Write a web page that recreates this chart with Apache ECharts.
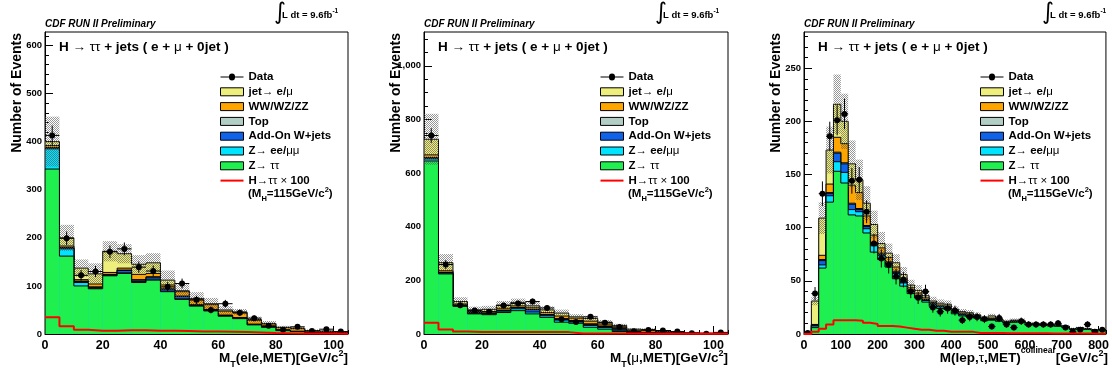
<!DOCTYPE html>
<html>
<head>
<meta charset="utf-8">
<script src="https://cdn.jsdelivr.net/npm/echarts@6/dist/echarts.min.js"></script>
<style>
  html, body { margin: 0; padding: 0; background: #fff; }
  #chart { width: 1112px; height: 376px; }
</style>
</head>
<body>
<div id="chart"></div>
<script>
// ---------------------------------------------------------------------------
// Binning
// ---------------------------------------------------------------------------
const binLowMT = [0, 5, 10, 15, 20, 25, 30, 35, 40, 45, 50, 55, 60, 65, 70, 75, 80, 85, 90, 95, 100];
const binLowColl = [0, 20, 40, 60, 80, 100, 120, 140, 160, 180, 200, 220, 240, 260, 280, 300, 320, 340, 360, 380,
  400, 420, 440, 460, 480, 500, 520, 540, 560, 580, 600, 620, 640, 660, 680, 700, 720, 740, 760, 780, 800];

// ---------------------------------------------------------------------------
// M_T(ele,MET)
// ---------------------------------------------------------------------------
const dataEle = [413, 199, 122, 130, 171, 177, 139, 131, 98, 105, 71, 50, 63, 44, 33, 17, 9, 15, 6, 10, 5];
const zttEle  = [343, 162, 100, 94, 121, 126, 107, 112, 88, 72, 58, 48, 37, 32, 19, 14, 7, 5, 2.5, 2, 1.5];
const zllEle  = [42, 15, 7, 1, 1, 1, 2, 2, 1, 1, 1, 1, 0.5, 0.5, 0.5, 0.3, 0.3, 0.2, 0.1, 0.1, 0.1];
const wjEle   = [2, 2, 2, 2, 1, 5, 3, 4, 4, 5, 1, 1, 1, 1, 0.5, 0.3, 0.2, 0.2, 0.1, 0.1, 0.1];
const topEle  = [1, 1, 1, 1, 1, 1, 1, 1, 1, 1, 1, 1, 1, 0.5, 0.5, 0.4, 0.3, 0.3, 0.2, 0.2, 0.1];
const vvEle   = [4, 3, 3, 6, 4, 4, 11, 7, 8, 9, 10, 10, 8, 10, 8, 6, 5.5, 5.5, 3.6, 3.1, 1.9];
const jetEle  = [8, 17, 24, 21, 44, 30, 21, 22, 10, 2, 3, 2, 2.5, 2, 1.5, 1, 0.7, 0.8, 0.5, 0.5, 0.3];
const bandEle = [52, 27, 18, 22, 21, 20, 19, 20, 20, 15, 13, 12, 8, 6, 6, 5, 3, 3, 2.5, 2, 1.5];
const higgsEle = [35, 16, 9, 7, 7, 8, 8, 7, 7, 6, 5, 5, 4.5, 4, 3, 2, 1.5, 1.2, 1, 0.8, 0.6];

// ---------------------------------------------------------------------------
// M_T(mu,MET)
// ---------------------------------------------------------------------------
const dataMu = [740, 259, 107, 88, 83, 106, 114, 121, 97, 55, 45, 64, 42, 26, 10, 15, 13, 9, 3, 1, 6];
const zttMu  = [645, 224, 103, 75, 72, 80, 87, 75, 62, 44, 40, 25, 18, 9, 3, 3, 1.5, 1, 0.5, 0.4, 0.3];
const zllMu  = [8, 3, 2, 2, 3, 5, 7, 7, 6, 8, 6, 7, 6, 5, 2, 1.5, 1, 0.5, 0.3, 0.2, 0.1];
const wjMu   = [3, 2, 2, 2, 2, 3, 4, 9, 4, 4, 3, 4, 4, 4, 2, 1, 0.5, 0.5, 0.2, 0.2, 0.1];
const topMu  = [2, 1, 1, 1, 1, 1, 1, 1, 1, 1, 1, 2, 2, 2, 1, 1, 0.5, 0.5, 0.3, 0.2, 0.2];
const vvMu   = [10, 6, 4, 4, 5, 7, 6, 6, 7, 10, 9, 10, 7, 6, 6, 7, 4, 3.5, 2.2, 1.6, 1.0];
const jetMu  = [58, 30, 9, 6, 9, 12, 13, 7, 10, 11, 5, 10, 7, 6, 4, 3.5, 1.5, 1, 0.5, 0.4, 0.3];
const bandMu = [95, 32, 16, 12, 13, 15, 14, 14, 13, 13, 10, 10, 8, 6, 4, 4, 3, 2, 1.5, 1, 1];
const higgsMu = [42, 17, 9, 7, 7, 7, 7, 7, 7, 7, 2, 2, 2, 1.5, 1.5, 1, 1, 1, 0.5, 0.5, 0.5];

// ---------------------------------------------------------------------------
// M(lep,tau,MET) collinear
// ---------------------------------------------------------------------------
const dataColl = [1, 38, 132, 186, 201, 207, 144, 145, 115, 85, 71, 65, 54, 51, 40, 34, 40, 25, 21, 24,
  22, 13, 16, 16, 14, 7, 15, 9, 6, 12, 9, 9, 9, 9, 10, 6, 2, 4, 9, 2, 4];
const zttColl = [0.3, 6, 62, 124, 153, 142, 112, 111, 95, 77, 70, 63, 52, 45, 38, 34, 30, 26, 24, 23,
  19, 17, 16, 15, 12.5, 13, 12, 10.2, 11, 11, 8.4, 8.4, 8, 7.6, 7.2, 6.3, 4.2, 5, 4.2, 3.4, 3.4];
const zllColl = [0.1, 1.5, 3, 6, 9, 10, 5, 4, 4, 6, 4, 3, 5, 3, 2, 1.5, 1.5, 1.5, 1.5, 1.5,
  1, 1, 1, 0.8, 0.6, 0.6, 0.5, 0.4, 0.5, 0.5, 0.4, 0.4, 0.4, 0.3, 0.3, 0.3, 0.2, 0.2, 0.2, 0.2, 0.2];
const wjColl = [0, 0.7, 4, 2, 8, 8, 5, 2, 2, 2, 1, 1, 1, 1, 1, 0.5, 0.5, 0.5, 0.5, 0.5,
  0.5, 0.5, 0.5, 0.3, 0.3, 0.3, 0.3, 0.3, 0.3, 0.3, 0.2, 0.2, 0.2, 0.2, 0.2, 0.2, 0.1, 0.1, 0.1, 0.1, 0.1];
const topColl = [0, 0.3, 1, 1, 1, 1, 1, 1, 1, 1, 1, 1, 1, 0.5, 0.5, 0.5, 0.5, 0.5, 0.3, 0.3,
  0.3, 0.3, 0.3, 0.2, 0.2, 0.3, 0.2, 0.2, 0.2, 0.2, 0.2, 0.2, 0.2, 0.2, 0.2, 0.1, 0.1, 0.1, 0.1, 0.1, 0.1];
const vvColl = [0, 0.5, 4, 8, 14, 18, 17, 15, 9, 7, 5, 4, 4, 3, 2, 2, 1.5, 1, 1, 1,
  1, 1, 1, 0.8, 0.6, 0.8, 0.5, 0.4, 0.5, 0.5, 0.4, 0.4, 0.3, 0.3, 0.3, 0.3, 0.2, 0.3, 0.2, 0.1, 0.1];
const jetColl = [0.1, 22, 35, 32, 31, 21, 20, 12, 12, 10, 4, 4, 4, 3.5, 2.5, 2.5, 2, 1.5, 1.7, 1.7,
  1.2, 1.2, 1.2, 0.9, 0.8, 2, 0.5, 0.5, 0.5, 0.5, 0.4, 0.4, 0.4, 0.4, 0.3, 0.3, 0.2, 0.3, 0.2, 0.1, 0.1];
const bandColl = [0.3, 4, 15, 22, 28, 26, 22, 19, 16, 13, 11, 9, 8, 7, 5, 5, 4, 4, 3.5, 3.5,
  3, 2.5, 2.5, 2.2, 2, 2, 1.8, 1.6, 1.6, 1.6, 1.4, 1.3, 1.3, 1.2, 1.2, 1.1, 1, 1, 0.9, 0.8, 0.8];
const higgsColl = [0, 2, 5, 9, 13, 13, 13, 12.5, 10.5, 9.5, 7.5, 7.5, 7, 6, 5, 4, 4, 3, 3, 2.2,
  2.2, 2, 2, 1, 1, 0.9, 0.9, 0.8, 0.8, 0.7, 0.7, 0.6, 0.6, 0.5, 0.5, 0.5, 0.4, 0.4, 0.4, 0.3, 0.3];

// ---------------------------------------------------------------------------
// Tick labels
// ---------------------------------------------------------------------------
const xTicksMT = [0, 20, 40, 60, 80, 100];
const xTicksColl = [0, 100, 200, 300, 400, 500, 600, 700, 800];
const yTicksEle = [0, 100, 200, 300, 400, 500, 600];
const yTicksMu = [0, 200, 400, 600, 800, 1000];
const yTicksColl = [0, 50, 100, 150, 200, 250];

// Background processes, bottom of the stack first
const processes = [
  { name: 'Z→ ττ',         color: '#1ff04f' },
  { name: 'Z→ ee/μμ',      color: '#00e4ff' },
  { name: 'Add-On W+jets', color: '#0f62ea' },
  { name: 'Top',           color: '#b3cfc5' },
  { name: 'WW/WZ/ZZ',      color: '#ffa500' },
  { name: 'jet→ e/μ',      color: '#eeee7c' }
];
const HIGGS_NAME = 'H→ττ × 100';
const FONT = '"Liberation Sans", Arial, Helvetica, sans-serif';

// Axis titles as runs of text: {t: text, s: font size, dy: vertical shift, n: normal weight}
const titleEle  = [{ t: 'M' }, { t: 'T', s: 9, dy: 6 }, { t: '(ele,MET)[GeV/c' }, { t: '2', s: 9, dy: -4.5 }, { t: ']' }];
const titleMu   = [{ t: 'M' }, { t: 'T', s: 9, dy: 6 }, { t: '(' }, { t: 'μ', n: true }, { t: ',MET)[GeV/c' }, { t: '2', s: 9, dy: -4.5 }, { t: ']' }];
const titleColl = [{ t: 'M(lep,' }, { t: 'τ', n: true }, { t: ',MET)' }, { t: 'collinear', s: 8.5, dy: -7.5 }, { t: '[GeV/c' }, { t: '2', s: 9, dy: -4.5 }, { t: ']' }];

const panels = [
  { grid: { left: 45, top: 32, width: 303, height: 302 }, xMax: 105, yMax: 628,
    binLow: binLowMT, binWidth: 5, xTicks: xTicksMT, xMinor: 5, yTicks: yTicksEle, yMinor: 20,
    stack: [zttEle, zllEle, wjEle, topEle, vvEle, jetEle], band: bandEle, data: dataEle, higgs: higgsEle,
    xTitle: titleEle, legendLeft: 220, lumiX: 274 },
  { grid: { left: 424, top: 32, width: 304, height: 302 }, xMax: 105, yMax: 1126,
    binLow: binLowMT, binWidth: 5, xTicks: xTicksMT, xMinor: 5, yTicks: yTicksMu, yMinor: 50,
    stack: [zttMu, zllMu, wjMu, topMu, vvMu, jetMu], band: bandMu, data: dataMu, higgs: higgsMu,
    xTitle: titleMu, legendLeft: 600, lumiX: 655 },
  { grid: { left: 804, top: 32, width: 304, height: 302 }, xMax: 820, yMax: 284,
    binLow: binLowColl, binWidth: 20, xTicks: xTicksColl, xMinor: 20, yTicks: yTicksColl, yMinor: 10,
    stack: [zttColl, zllColl, wjColl, topColl, vvColl, jetColl], band: bandColl, data: dataColl, higgs: higgsColl,
    xTitle: titleColl, legendLeft: 980, lumiX: 1042 }
];

// Grey cross-hatch used for the systematic uncertainty band
const hatchCanvas = document.createElement('canvas');
hatchCanvas.width = 4; hatchCanvas.height = 4;
(function () {
  const ctx = hatchCanvas.getContext('2d');
  ctx.fillStyle = 'rgba(85,85,85,0.62)';
  for (let y = 0; y < 4; y++) for (let x = 0; x < 4; x++) if ((x + y) % 2 === 0) ctx.fillRect(x, y, 1, 1);
})();
const HATCH = { image: hatchCanvas, repeat: 'repeat' };

function minorValues(max, step) {
  const v = [];
  for (let t = 0; t <= max + 1e-9; t += step) v.push(+t.toFixed(6));
  return v;
}

// Lay out a run of text pieces (sub/superscripts) side by side
const measureCtx = document.createElement('canvas').getContext('2d');
function runText(parts, x, y, baseSize, align, style) {
  const fonts = parts.map(pt => (style || '') + ' ' + (pt.n ? 'normal' : 'bold') + ' ' + (pt.s || baseSize) + 'px ' + FONT);
  const widths = parts.map((pt, k) => { measureCtx.font = fonts[k]; return measureCtx.measureText(pt.t).width; });
  const total = widths.reduce((a, b) => a + b, 0);
  let cx = align === 'right' ? x - total : x;
  return parts.map((pt, k) => {
    const el = { type: 'text', x: cx, y: y + (pt.dy || 0), silent: true,
      style: { text: pt.t, fill: '#000', fontFamily: FONT, fontWeight: pt.n ? 'normal' : 'bold',
        fontStyle: style || 'normal', fontSize: pt.s || baseSize, align: 'left', verticalAlign: 'middle' } };
    cx += widths[k];
    return el;
  });
}

const xAxes = [], yAxes = [], grids = [], series = [], legends = [], graphics = [];

panels.forEach((p, i) => {
  grids.push(Object.assign({ show: true, borderColor: '#000', borderWidth: 1, backgroundColor: 'transparent' }, p.grid));

  const labelBase = { fontFamily: FONT, fontWeight: 'bold', color: '#000' };
  // major x axis (labels + long ticks)
  xAxes.push({ gridIndex: i, type: 'value', min: 0, max: p.xMax,
    axisLine: { show: true, onZero: false, lineStyle: { color: '#000', width: 1 } },
    splitLine: { show: false },
    axisTick: { show: true, inside: true, length: 8, customValues: p.xTicks, lineStyle: { color: '#000', width: 1 } },
    axisLabel: Object.assign({ customValues: p.xTicks, margin: 5, fontSize: 12.5 }, labelBase) });
  // minor x ticks
  xAxes.push({ gridIndex: i, type: 'value', min: 0, max: p.xMax, position: 'bottom',
    axisLine: { show: false }, splitLine: { show: false }, axisLabel: { show: false },
    axisTick: { show: true, inside: true, length: 4, customValues: minorValues(p.xMax, p.xMinor), lineStyle: { color: '#000', width: 1 } } });
  // major y axis
  yAxes.push({ gridIndex: i, type: 'value', min: 0, max: p.yMax,
    axisLine: { show: true, onZero: false, lineStyle: { color: '#000', width: 1 } },
    splitLine: { show: false },
    axisTick: { show: true, inside: true, length: 8, customValues: p.yTicks, lineStyle: { color: '#000', width: 1 } },
    axisLabel: Object.assign({ customValues: p.yTicks, margin: 3, fontSize: 9.5 }, labelBase) });
  // minor y ticks
  yAxes.push({ gridIndex: i, type: 'value', min: 0, max: p.yMax, position: 'left',
    axisLine: { show: false }, splitLine: { show: false }, axisLabel: { show: false },
    axisTick: { show: true, inside: true, length: 4, customValues: minorValues(p.yMax, p.yMinor), lineStyle: { color: '#000', width: 1 } } });

  const xi = 2 * i, yi = 2 * i;
  const nb = p.binLow.length;

  // cumulative stack heights, bottom process first
  const cum = [];
  p.stack.forEach((vals, k) => {
    cum.push(vals.map((v, b) => v + (k > 0 ? cum[k - 1][b] : 0)));
  });
  const total = cum[cum.length - 1];

  // draw from the top of the stack downwards so each layer keeps its outline
  for (let k = processes.length - 1; k >= 0; k--) {
    const c = cum[k];
    const color = processes[k].color;
    series.push({
      type: 'custom', name: processes[k].name, xAxisIndex: xi, yAxisIndex: yi, clip: true, silent: true,
      itemStyle: { color: color, borderColor: '#000', borderWidth: 1 },
      data: c.map((v, b) => [p.binLow[b], p.binLow[b] + p.binWidth, v, b > 0 ? c[b - 1] : 0, b === nb - 1 ? 1 : 0]),
      renderItem: function (params, api) {
        const x0 = api.value(0), x1 = api.value(1), top = api.value(2), prev = api.value(3);
        const bl = api.coord([x0, 0]), tr = api.coord([x1, top]), pv = api.coord([x0, prev]);
        const pts = [[bl[0], pv[1]], [bl[0], tr[1]], [tr[0], tr[1]]];
        if (api.value(4)) pts.push([tr[0], bl[1]]);
        return { type: 'group', children: [
          { type: 'rect', shape: { x: bl[0], y: tr[1], width: tr[0] - bl[0], height: bl[1] - tr[1] }, style: { fill: color } },
          { type: 'polyline', shape: { points: pts }, style: { stroke: '#000', lineWidth: 1, fill: null } }
        ] };
      }
    });
  }

  // systematic uncertainty band around the total prediction
  series.push({
    type: 'custom', name: 'syst', xAxisIndex: xi, yAxisIndex: yi, clip: true, silent: true,
    data: total.map((v, b) => [p.binLow[b], p.binLow[b] + p.binWidth, Math.max(0, v - p.band[b]), v + p.band[b]]),
    renderItem: function (params, api) {
      const a = api.coord([api.value(0), api.value(3)]), b = api.coord([api.value(1), api.value(2)]);
      return { type: 'rect', shape: { x: a[0], y: a[1], width: b[0] - a[0], height: b[1] - a[1] }, style: { fill: HATCH } };
    }
  });

  // Higgs signal x100, step outline
  const hData = p.binLow.map((x, b) => [x, p.higgs[b]]);
  hData.push([p.binLow[nb - 1] + p.binWidth, p.higgs[nb - 1]]);
  series.push({
    type: 'line', name: HIGGS_NAME, xAxisIndex: xi, yAxisIndex: yi, step: 'end', symbol: 'none',
    clip: true, silent: true, data: hData,
    itemStyle: { color: '#ff0000' }, lineStyle: { color: '#ff0000', width: 2 }
  });

  // observed events with Poisson errors
  series.push({
    type: 'custom', name: 'Data', xAxisIndex: xi, yAxisIndex: yi, clip: true, silent: true,
    itemStyle: { color: '#000' },
    data: p.data.map((n, b) => [p.binLow[b], p.binLow[b] + p.binWidth, n]),
    renderItem: function (params, api) {
      const x0 = api.value(0), x1 = api.value(1), n = api.value(2), xc = (x0 + x1) / 2;
      const err = Math.sqrt(n);
      const l = api.coord([x0, n]), r = api.coord([x1, n]), c = api.coord([xc, n]);
      const t = api.coord([xc, n + err]), d = api.coord([xc, Math.max(0, n - err)]);
      const ls = { stroke: '#000', lineWidth: 1 };
      return { type: 'group', children: [
        { type: 'line', shape: { x1: l[0], y1: l[1], x2: r[0], y2: r[1] }, style: ls },
        { type: 'line', shape: { x1: t[0], y1: t[1], x2: d[0], y2: d[1] }, style: ls },
        { type: 'circle', shape: { cx: c[0], cy: c[1], r: 3 }, style: { fill: '#000' } }
      ] };
    }
  });

  // legend
  legends.push({
    left: p.legendLeft, top: 70, orient: 'vertical', padding: 0, itemGap: 0.8,
    itemWidth: 23, itemHeight: 8, selectedMode: false,
    textStyle: { fontFamily: FONT, fontWeight: 'bold', fontSize: 11.5, color: '#000', lineHeight: 14,
      rich: { g: { fontFamily: FONT, fontWeight: 'normal', fontSize: 11.5, color: '#000', lineHeight: 14 } } },
    formatter: name => name.replace(/([→μτ×])/g, '{g|$1}'),
    data: [
      { name: 'Data', icon: 'path://M0,3.5H8.5A3,3,0,0,1,14.5,3.5H23V4.5H14.5A3,3,0,0,1,8.5,4.5H0Z', itemStyle: { color: '#000', borderWidth: 0 } }
    ].concat(processes.slice().reverse().map(pr => (
      { name: pr.name, icon: 'rect', itemStyle: { color: pr.color, borderColor: '#000', borderWidth: 1 } }
    ))).concat([
      { name: HIGGS_NAME, icon: 'path://M0,0H23V2H0Z', itemStyle: { color: '#ff0000', borderWidth: 0 } }
    ])
  });

  const L = p.grid.left, R = p.grid.left + p.grid.width;
  const textBase = { fill: '#000', fontFamily: FONT, fontWeight: 'bold' };
  graphics.push(
    { type: 'text', x: L, y: 24, silent: true,
      style: Object.assign({}, textBase, { text: 'CDF RUN II Preliminary', fontSize: 10, fontStyle: 'italic', align: 'left', verticalAlign: 'middle' }) },
    { type: 'text', x: p.lumiX, y: 13.5, silent: true,
      style: { text: '∫', fill: '#000', fontFamily: '"DejaVu Sans"', fontSize: 23, align: 'left', verticalAlign: 'middle' } },
    { type: 'text', x: L + 14, y: 47.5, silent: true,
      style: Object.assign({}, textBase, { text: 'H {g|→ ττ} + jets ( e + {g|μ} + 0jet )', fontSize: 13.5, align: 'left', verticalAlign: 'middle',
        rich: { g: { fontFamily: FONT, fontWeight: 'normal', fontSize: 13.5 } } }) },
    { type: 'text', x: L - 27.6, y: 33, rotation: Math.PI / 2, silent: true,
      style: Object.assign({}, textBase, { text: 'Number of Events', fontSize: 14, align: 'right', verticalAlign: 'middle' }) }
  );
  graphics.push.apply(graphics, runText([{ t: 'L dt = 9.6fb' }, { t: '-1', s: 6.5, dy: -4 }], p.lumiX + 8, 15, 9.5, 'left'));
  graphics.push.apply(graphics, runText(p.xTitle, R, 358.5, 13.5, 'right'));
  graphics.push.apply(graphics, runText(
    [{ t: '(M' }, { t: 'H', s: 7.5, dy: 5 }, { t: '=115GeV/c' }, { t: '2', s: 7.5, dy: -4 }, { t: ')' }],
    p.legendLeft + 28, 193.5, 11.5, 'left'));
});

const chart = echarts.init(document.getElementById('chart'), null, { renderer: 'canvas' });
chart.setOption({
  animation: false,
  backgroundColor: '#ffffff',
  grid: grids,
  xAxis: xAxes,
  yAxis: yAxes,
  legend: legends,
  series: series,
  graphic: graphics
});
</script>
</body>
</html>
